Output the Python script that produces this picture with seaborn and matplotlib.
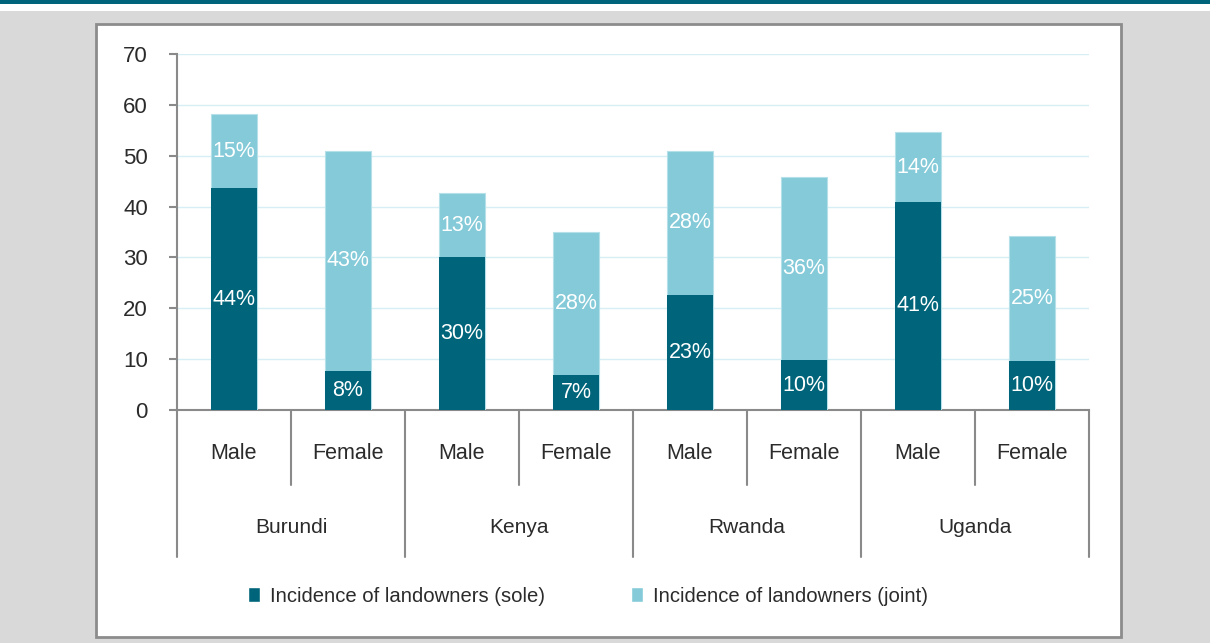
import pandas as pd
import numpy as np
import matplotlib.pyplot as plt
import seaborn as sns
from matplotlib.patches import Rectangle, Patch

# Data
countries = ['Burundi', 'Kenya', 'Rwanda', 'Uganda']
sexes = ['Male', 'Female']
sole = [43.6, 7.7, 30.0, 6.8, 22.6, 9.8, 40.9, 9.6]
joint = [14.6, 43.3, 12.6, 28.2, 28.4, 36.1, 13.7, 24.6]

DARK = '#00657a'
LIGHT = '#84cad8'
GRAY = '#8a8a8a'
TXT = '#2b2b2b'

sns.set_style('white')
plt.rcParams['font.family'] = ['Liberation Sans', 'DejaVu Sans']

groups = [f'{c} {s}' for c in countries for s in sexes]
df = pd.DataFrame({'group': groups, 'sole': sole, 'joint': joint})
df['total'] = df['sole'] + df['joint']

fig = plt.figure(figsize=(12.1, 6.43), dpi=100)
fig.patch.set_facecolor('#d9d9d9')

# page decorations: teal band on top, white strip, white chart box
W, H = 1210, 643
fig.patches.append(Rectangle((0, 1 - 4 / H), 1, 4 / H, transform=fig.transFigure,
                             facecolor='#00657a', edgecolor='none', zorder=0))
fig.patches.append(Rectangle((0, 1 - 11 / H), 1, 7 / H, transform=fig.transFigure,
                             facecolor='white', edgecolor='none', zorder=0))
fig.patches.append(Rectangle((96 / W, 1 - 637 / H), (1121 - 96) / W, (637 - 24) / H,
                             transform=fig.transFigure, facecolor='white',
                             edgecolor='#8c8c8c', linewidth=2, zorder=0))

ax = fig.add_axes([177 / W, 1 - 410 / H, (1089 - 177) / W, (410 - 54) / H])
ax.set_facecolor('none')
ax.set_zorder(2)

sns.barplot(data=df, x='group', y='total', color=LIGHT, width=0.4,
            saturation=1, ax=ax, linewidth=0.8, edgecolor='#b5e0e9', zorder=3)
sns.barplot(data=df, x='group', y='sole', color=DARK, width=0.4,
            saturation=1, ax=ax, linewidth=0, zorder=4)

for i, row in df.iterrows():
    ax.text(i, row['sole'] / 2, f"{round(row['sole'])}%", ha='center', va='center',
            color='white', fontsize=15.5, zorder=5)
    ax.text(i, row['sole'] + row['joint'] / 2, f"{round(row['joint'])}%", ha='center',
            va='center', color='white', fontsize=15.5, zorder=5)

ax.set_xlim(-0.5, len(groups) - 0.5)
ax.set_ylim(0, 70)
ax.set_yticks(range(0, 80, 10))
ax.yaxis.grid(True, color='#d6eef4', linewidth=1)
ax.set_axisbelow(True)
ax.set_xlabel('')
ax.set_ylabel('')
ax.set_xticks([])
for s in ['top', 'right']:
    ax.spines[s].set_visible(False)
ax.spines['left'].set_color(GRAY)
ax.spines['left'].set_linewidth(1.5)
ax.spines['bottom'].set_color(GRAY)
ax.spines['bottom'].set_linewidth(1.5)
ax.tick_params(axis='y', left=True, length=6, width=1.5, color=GRAY, pad=15,
               labelsize=16, labelcolor=TXT)

# multi-level category axis drawn below the plot
trans = ax.get_xaxis_transform()
for k in range(len(countries) + 1):
    ax.plot([2 * k - 0.5] * 2, [0, -0.413], transform=trans, color=GRAY,
            lw=1.5, clip_on=False)
for k in range(len(countries)):
    ax.plot([2 * k + 0.5] * 2, [0, -0.211], transform=trans, color=GRAY,
            lw=1.5, clip_on=False)
    ax.text(2 * k + 0.5, -0.329, countries[k], transform=trans, ha='center',
            va='center', fontsize=15, color=TXT)
    for j, s in enumerate(sexes):
        ax.text(2 * k + j, -0.121, s, transform=trans, ha='center', va='center',
                fontsize=15.5, color=TXT)

handles = [Patch(facecolor=DARK, label='Incidence of landowners (sole)'),
           Patch(facecolor=LIGHT, label='Incidence of landowners (joint)')]
leg = fig.legend(handles=handles, loc='center', bbox_to_anchor=(588 / W, 1 - 596 / H),
                 ncol=2, frameon=False, fontsize=14.6, handlelength=0.6, handleheight=0.75,
                 handletextpad=0.5, columnspacing=4.2, labelcolor=TXT)
leg.set_zorder(3)

fig.savefig('out.png', dpi=100, facecolor=fig.get_facecolor())
